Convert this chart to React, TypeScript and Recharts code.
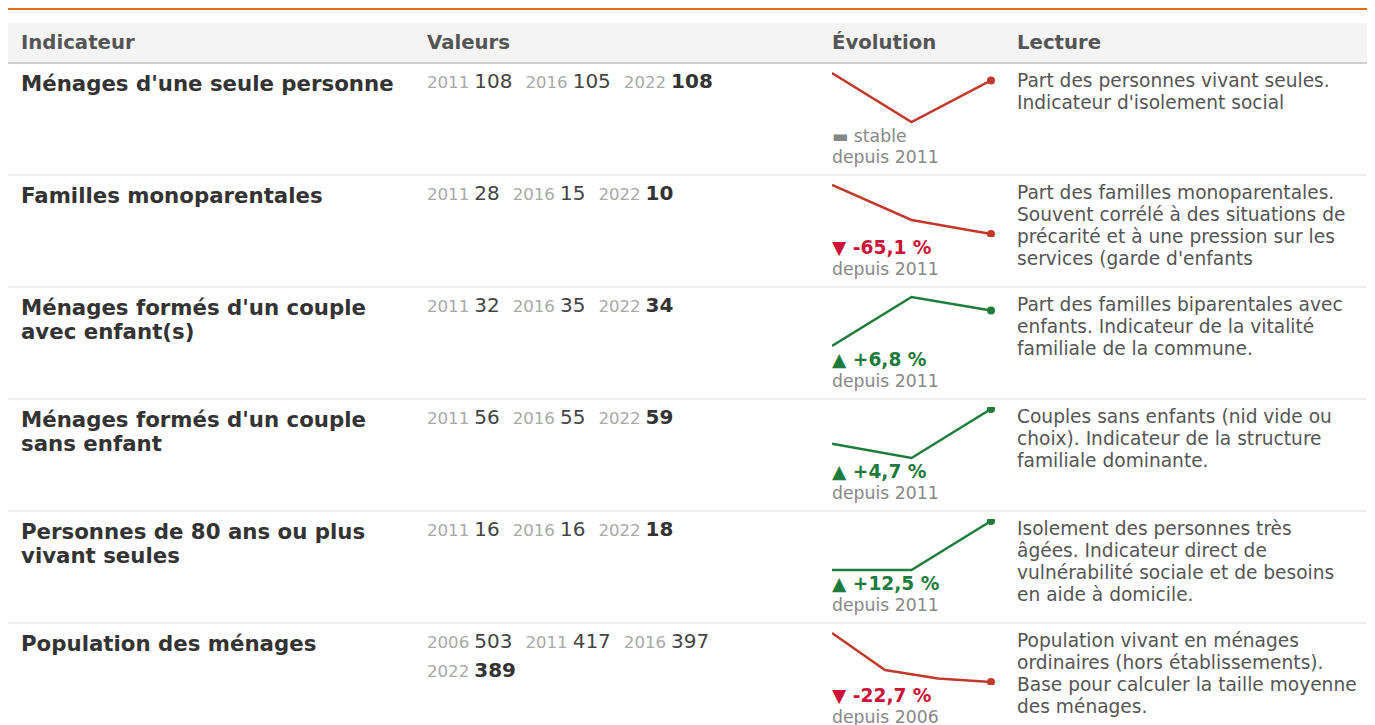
import { Line, LineChart, XAxis, YAxis } from 'recharts';

// Column headings
const headings = ['Indicateur', 'Valeurs', 'Évolution', 'Lecture'];

// Indicator labels (line breaks as in the reference)
const indicatorLabels = [
  ["Ménages d'une seule personne"],
  ['Familles monoparentales'],
  ["Ménages formés d'un couple", 'avec enfant(s)'],
  ["Ménages formés d'un couple", 'sans enfant'],
  ['Personnes de 80 ans ou plus', 'vivant seules'],
  ['Population des ménages'],
];

// Census years
const years3 = ['2011', '2016', '2022'];
const years4 = ['2006', '2011', '2016', '2022'];

// Series values
const seulePersonne = [108.4, 105.1, 107.9];
const monoparentales = [28.4, 15.2, 9.91];
const coupleAvecEnfants = [32.0, 35.0, 34.18];
const coupleSansEnfant = [56.3, 55.2, 58.95];
const seuls80Plus = [16, 16, 18];
const populationMenages = [503, 417, 397, 389];

// Change labels shown under each sparkline
const changeLabels = ['stable', '-65,1 %', '+6,8 %', '+4,7 %', '+12,5 %', '-22,7 %'];
const changeDirections = ['flat', 'down', 'up', 'up', 'up', 'down'];

// "Lecture" texts
const readings = [
  ['Part des personnes vivant seules.', "Indicateur d'isolement social"],
  [
    'Part des familles monoparentales.',
    'Souvent corrélé à des situations de',
    'précarité et à une pression sur les',
    "services (garde d'enfants",
  ],
  ['Part des familles biparentales avec', 'enfants. Indicateur de la vitalité', 'familiale de la commune.'],
  ['Couples sans enfants (nid vide ou', 'choix). Indicateur de la structure', 'familiale dominante.'],
  [
    'Isolement des personnes très',
    'âgées. Indicateur direct de',
    'vulnérabilité sociale et de besoins',
    'en aide à domicile.',
  ],
  [
    'Population vivant en ménages',
    'ordinaires (hors établissements).',
    'Base pour calculer la taille moyenne',
    'des ménages.',
  ],
];

const seriesList = [
  { years: years3, values: seulePersonne },
  { years: years3, values: monoparentales },
  { years: years3, values: coupleAvecEnfants },
  { years: years3, values: coupleSansEnfant },
  { years: years3, values: seuls80Plus },
  { years: years4, values: populationMenages },
];

const FONT = '"DejaVu Sans", Verdana, sans-serif';
const COLS = '406px 405px 185px 364px';
const RED_LINE = '#c0392b';
const GREEN_LINE = '#1e7b3a';
const RED_TEXT = '#cc1236';
const GREEN_TEXT = '#1e7b3e';

function Sparkline({ years, values, color }: { years: string[]; values: number[]; color: string }) {
  const data = years.map((y, i) => ({ year: y, value: values[i] }));
  const last = data.length - 1;
  return (
    <LineChart width={164} height={54} data={data} margin={{ top: 2, right: 5, bottom: 3, left: 0 }}>
      <XAxis dataKey="year" hide padding={{ left: 0, right: 0 }} />
      <YAxis hide domain={['dataMin', 'dataMax']} />
      <Line
        type="linear"
        dataKey="value"
        stroke={color}
        strokeWidth={2.5}
        isAnimationActive={false}
        activeDot={false}
        dot={(p: any) =>
          p.index === last ? (
            <circle key={`d${p.index}`} cx={p.cx} cy={p.cy} r={4} fill={color} stroke="none" />
          ) : (
            <g key={`d${p.index}`} />
          )
        }
      />
    </LineChart>
  );
}

function Row({ idx }: { idx: number }) {
  const s = seriesList[idx];
  const dir = changeDirections[idx];
  const lineColor = dir === 'up' ? GREEN_LINE : RED_LINE;
  const n = s.values.length;
  return (
    <div
      style={{
        display: 'grid',
        gridTemplateColumns: COLS,
        height: 110,
        borderBottom: '2px solid #eeeeee',
      }}
    >
      <div style={{ padding: '8px 13px 0', fontWeight: 700, fontSize: 21.3, lineHeight: '24px', color: '#333' }}>
        {indicatorLabels[idx].map((l) => (
          <div key={l} style={{ whiteSpace: 'nowrap' }}>
            {l}
          </div>
        ))}
      </div>
      <div
        style={{
          padding: '6px 20px 0 13px',
          display: 'flex',
          flexWrap: 'wrap',
          alignContent: 'flex-start',
          rowGap: 5,
        }}
      >
        {s.years.map((y, i) => (
          <span key={y} style={{ lineHeight: '23px', marginRight: 13, whiteSpace: 'nowrap' }}>
            <span style={{ fontSize: 16.6, color: '#a8a8a8', marginRight: 5 }}>{y}</span>
            <span
              style={{
                fontSize: 20,
                color: i === n - 1 ? '#333' : '#444',
                fontWeight: i === n - 1 ? 700 : 400,
              }}
            >
              {Math.round(s.values[i])}
            </span>
          </span>
        ))}
      </div>
      <div style={{ padding: '7px 13px 0' }}>
        <Sparkline years={s.years} values={s.values} color={lineColor} />
        {dir === 'flat' ? (
          <div style={{ fontSize: 17.3, lineHeight: '22px', color: '#888', whiteSpace: 'nowrap' }}>▬ stable</div>
        ) : (
          <div
            style={{
              fontSize: 18.6,
              lineHeight: '22px',
              fontWeight: 700,
              color: dir === 'up' ? GREEN_TEXT : RED_TEXT,
              whiteSpace: 'nowrap',
            }}
          >
            {dir === 'up' ? '▲' : '▼'} {changeLabels[idx]}
          </div>
        )}
        <div style={{ fontSize: 17.3, lineHeight: '20px', color: '#888', whiteSpace: 'nowrap' }}>
          depuis {s.years[0]}
        </div>
      </div>
      <div style={{ padding: '6px 13px 0', fontSize: 18.6, lineHeight: '22px', color: '#555' }}>
        {readings[idx].map((l) => (
          <div key={l} style={{ whiteSpace: 'nowrap' }}>
            {l}
          </div>
        ))}
      </div>
    </div>
  );
}

export default function App() {
  return (
    <div style={{ width: 1360, fontFamily: FONT, background: '#fff' }}>
      <div style={{ height: 3, background: '#e46c14', marginTop: -1 }} />
      <div
        style={{
          marginTop: 13,
          display: 'grid',
          gridTemplateColumns: COLS,
          height: 39,
          background: '#f4f4f4',
          borderBottom: '2px solid #d0d0d0',
        }}
      >
        {headings.map((h) => (
          <div
            key={h}
            style={{
              padding: '0 13px',
              fontWeight: 700,
              fontSize: 19.7,
              color: '#555',
              lineHeight: '40px',
            }}
          >
            {h}
          </div>
        ))}
      </div>
      {seriesList.map((_, i) => (
        <Row key={i} idx={i} />
      ))}
    </div>
  );
}
